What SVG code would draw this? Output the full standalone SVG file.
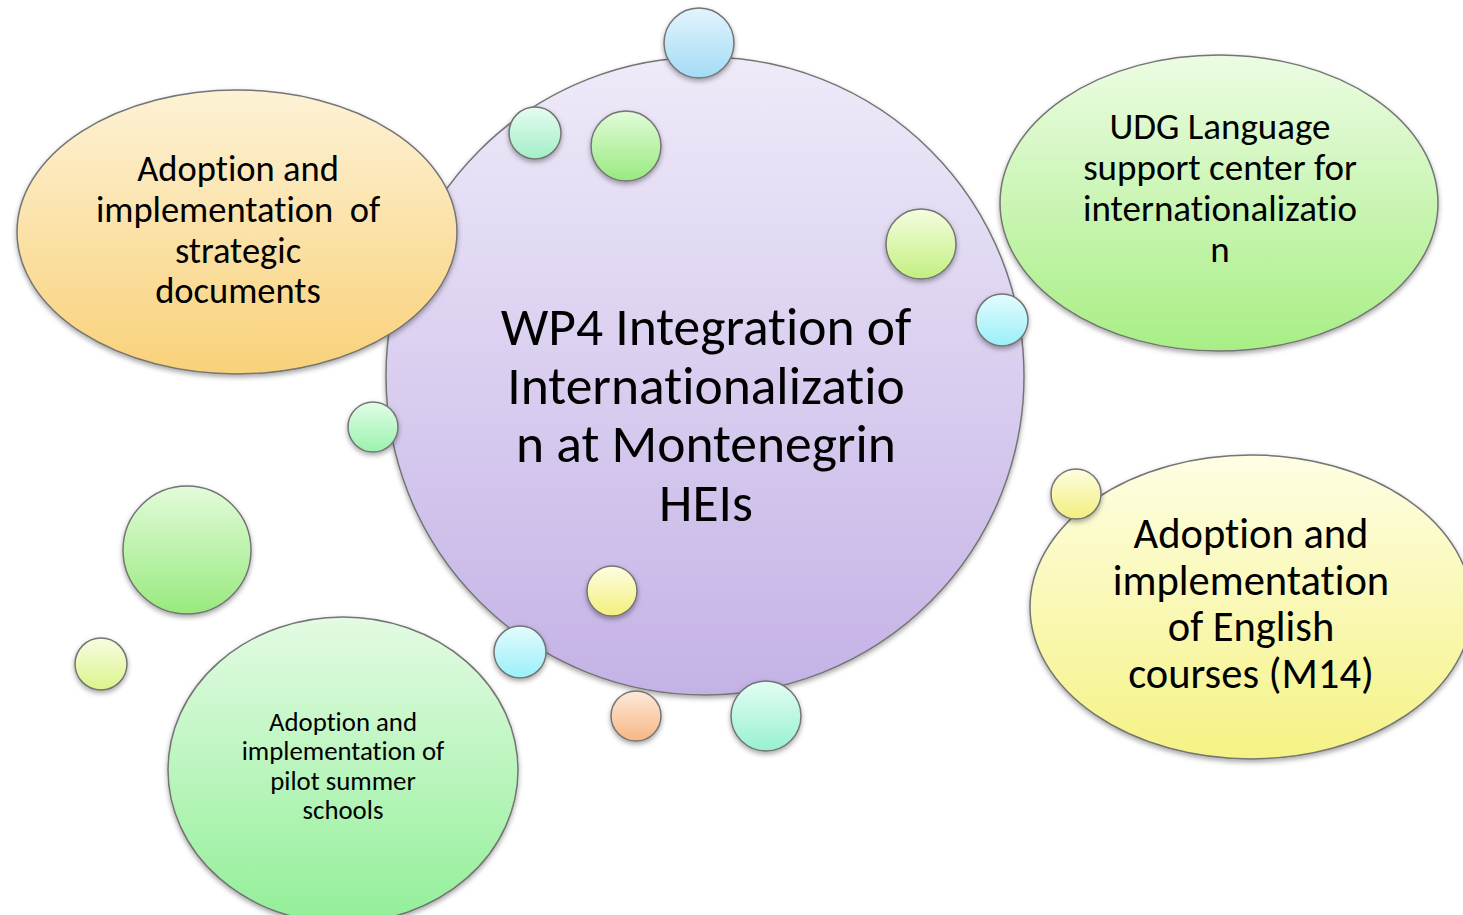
<svg xmlns="http://www.w3.org/2000/svg" width="1463" height="915" viewBox="0 0 1463 915">
<defs>
<filter id="sh" x="-20%" y="-20%" width="140%" height="150%">
<feDropShadow dx="0" dy="2.5" stdDeviation="2.5" flood-color="#000" flood-opacity="0.35"/>
</filter>
<linearGradient id="gMain" x1="0" y1="0" x2="0" y2="1"><stop offset="0" stop-color="#efeaf9"/><stop offset="1" stop-color="#c4b2e6"/></linearGradient>
<linearGradient id="gOrange" x1="0" y1="0" x2="0" y2="1"><stop offset="0" stop-color="#fdf2d6"/><stop offset="1" stop-color="#f9d179"/></linearGradient>
<linearGradient id="gGreenTR" x1="0" y1="0" x2="0" y2="1"><stop offset="0" stop-color="#ecfce3"/><stop offset="1" stop-color="#a8ee85"/></linearGradient>
<linearGradient id="gYellow" x1="0" y1="0" x2="0" y2="1"><stop offset="0" stop-color="#fefee4"/><stop offset="1" stop-color="#f5f285"/></linearGradient>
<linearGradient id="gGreenBL" x1="0" y1="0" x2="0" y2="1"><stop offset="0" stop-color="#e3fbe3"/><stop offset="1" stop-color="#92ef98"/></linearGradient>
<linearGradient id="gBlue" x1="0" y1="0" x2="0" y2="1"><stop offset="0" stop-color="#e2f4fd"/><stop offset="1" stop-color="#a3dbf5"/></linearGradient>
<linearGradient id="gMint" x1="0" y1="0" x2="0" y2="1"><stop offset="0" stop-color="#e6fcf1"/><stop offset="1" stop-color="#a2efc6"/></linearGradient>
<linearGradient id="gGreen" x1="0" y1="0" x2="0" y2="1"><stop offset="0" stop-color="#e2fbda"/><stop offset="1" stop-color="#98ea7e"/></linearGradient>
<linearGradient id="gLime" x1="0" y1="0" x2="0" y2="1"><stop offset="0" stop-color="#f4fde0"/><stop offset="1" stop-color="#c3ef80"/></linearGradient>
<linearGradient id="gCyan" x1="0" y1="0" x2="0" y2="1"><stop offset="0" stop-color="#e3fcfe"/><stop offset="1" stop-color="#9aeff8"/></linearGradient>
<linearGradient id="gLGreen" x1="0" y1="0" x2="0" y2="1"><stop offset="0" stop-color="#e1fde6"/><stop offset="1" stop-color="#9bf2ae"/></linearGradient>
<linearGradient id="gSYellow" x1="0" y1="0" x2="0" y2="1"><stop offset="0" stop-color="#fefde2"/><stop offset="1" stop-color="#f3ef7c"/></linearGradient>
<linearGradient id="gPeach" x1="0" y1="0" x2="0" y2="1"><stop offset="0" stop-color="#fde9da"/><stop offset="1" stop-color="#f7b783"/></linearGradient>
<linearGradient id="gTeal" x1="0" y1="0" x2="0" y2="1"><stop offset="0" stop-color="#e3fdf3"/><stop offset="1" stop-color="#97f1d1"/></linearGradient>
<linearGradient id="gYGreen" x1="0" y1="0" x2="0" y2="1"><stop offset="0" stop-color="#f6fde2"/><stop offset="1" stop-color="#dcf48c"/></linearGradient>
</defs>
<style>
.shape{stroke:#747474;stroke-width:1.5;filter:url(#sh);}
.t{font-family:Carlito,Lato,"Open Sans",sans-serif;fill:#000;text-anchor:middle;font-variant-ligatures:none;font-feature-settings:"liga" 0;}
.c{font-size:53.5px;}
.s36{font-size:36.5px;}
.s37{font-size:37px;}
.s42{font-size:42.5px;}
.s27{font-size:26.8px;}
</style>

<g id="connectors"/>

<g id="node-main">
<circle class="shape" cx="705" cy="376" r="319" fill="url(#gMain)"/>
<text class="t c" x="706" y="345">WP4 Integration of</text>
<text class="t c" x="706" y="404">Internationalizatio</text>
<text class="t c" x="706" y="462">n at Montenegrin</text>
<text class="t c" x="706" y="521">HEIs</text>
</g>

<g id="node-strategic">
<ellipse class="shape" cx="237" cy="232" rx="220" ry="142" fill="url(#gOrange)"/>
<text class="t s36" x="238" y="181">Adoption and</text>
<text class="t s36" x="238" y="222" xml:space="preserve">implementation  of</text>
<text class="t s36" x="238" y="263">strategic</text>
<text class="t s36" x="238" y="303">documents</text>
</g>

<g id="node-language-center">
<ellipse class="shape" cx="1219" cy="203" rx="219" ry="148" fill="url(#gGreenTR)"/>
<text class="t s37" x="1220" y="139">UDG Language</text>
<text class="t s37" x="1220" y="180">support center for</text>
<text class="t s37" x="1220" y="221">internationalizatio</text>
<text class="t s37" x="1220" y="262">n</text>
</g>

<g id="node-english-courses">
<ellipse class="shape" cx="1251" cy="607" rx="221" ry="152" fill="url(#gYellow)"/>
<text class="t s42" x="1251" y="548">Adoption and</text>
<text class="t s42" x="1251" y="595">implementation</text>
<text class="t s42" x="1251" y="641">of English</text>
<text class="t s42" x="1251" y="688">courses (M14)</text>
</g>

<g id="node-summer-schools">
<ellipse class="shape" cx="343" cy="770" rx="175" ry="153" fill="url(#gGreenBL)"/>
<text class="t s27" x="343" y="731">Adoption and</text>
<text class="t s27" x="343" y="760">implementation of</text>
<text class="t s27" x="343" y="790">pilot summer</text>
<text class="t s27" x="343" y="819">schools</text>
</g>

<g id="bubble-1"><circle class="shape" cx="699" cy="43" r="35" fill="url(#gBlue)"/></g>
<g id="bubble-2"><circle class="shape" cx="535" cy="133" r="26" fill="url(#gMint)"/></g>
<g id="bubble-3"><circle class="shape" cx="626" cy="146" r="35" fill="url(#gGreen)"/></g>
<g id="bubble-4"><circle class="shape" cx="921" cy="244" r="35" fill="url(#gLime)"/></g>
<g id="bubble-5"><circle class="shape" cx="1002" cy="320" r="26" fill="url(#gCyan)"/></g>
<g id="bubble-6"><circle class="shape" cx="373" cy="427" r="25" fill="url(#gLGreen)"/></g>
<g id="bubble-7"><circle class="shape" cx="612" cy="591" r="25" fill="url(#gSYellow)"/></g>
<g id="bubble-8"><circle class="shape" cx="520" cy="652" r="26" fill="url(#gCyan)"/></g>
<g id="bubble-9"><circle class="shape" cx="636" cy="716" r="25" fill="url(#gPeach)"/></g>
<g id="bubble-10"><circle class="shape" cx="766" cy="716" r="35" fill="url(#gTeal)"/></g>
<g id="bubble-11"><circle class="shape" cx="1076" cy="494" r="25" fill="url(#gSYellow)"/></g>
<g id="bubble-12"><circle class="shape" cx="187" cy="550" r="64" fill="url(#gGreen)"/></g>
<g id="bubble-13"><circle class="shape" cx="101" cy="664" r="26" fill="url(#gYGreen)"/></g>
</svg>
